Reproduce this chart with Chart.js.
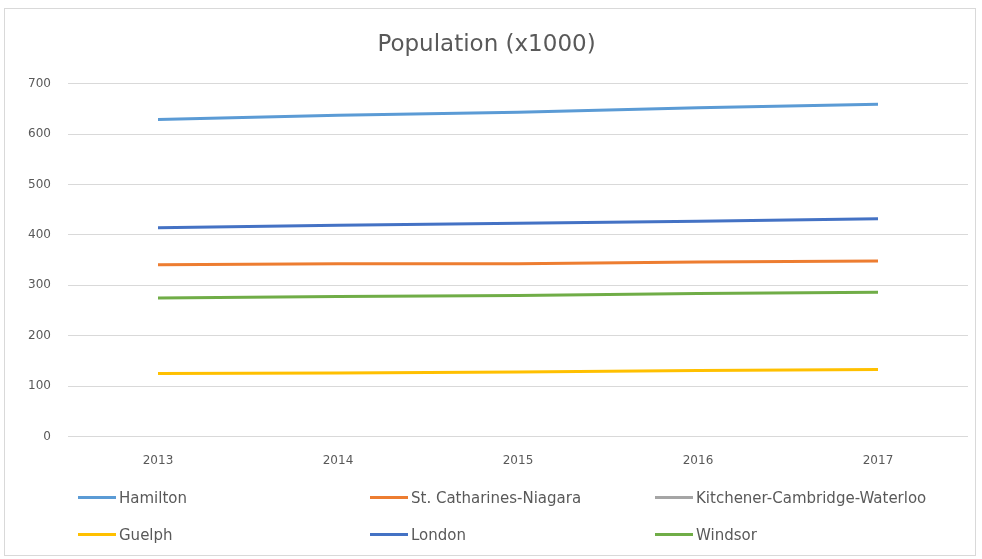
<!DOCTYPE html>
<html>
<head>
<meta charset="utf-8">
<script src="https://cdn.jsdelivr.net/npm/chart.js@4.4.1/dist/chart.umd.min.js"></script>
<style>
    html, body { margin: 0; padding: 0; background: #fff; }
    #frame {
        position: absolute; left: 4px; top: 8px; width: 972px; height: 548px;
        border: 1px solid #d9d9d9; box-sizing: border-box;
    }
    #chart-box { position: absolute; left: 0; top: 0; width: 982px; height: 495px; }
    #legend { position: absolute; left: 0; top: 484px; width: 982px; height: 70px; }
    .legend-item {
        position: absolute; height: 20px; line-height: 20px;
        font-family: "DejaVu Sans", sans-serif; font-size: 15px; color: #595959;
        white-space: nowrap;
    }
    .legend-item span.mark {
        display: inline-block; width: 38px; height: 3px; vertical-align: middle;
        margin-right: 3px; position: relative; top: -1px;
    }
</style>
</head>
<body>
<div id="frame"></div>
<div id="chart-box"><canvas id="line-chart"></canvas></div>
<div id="legend"></div>
<script>
// dados
var years = ['2013', '2014', '2015', '2016', '2017'];
var cities = ['Hamilton', 'St. Catharines-Niagara', 'Kitchener-Cambridge-Waterloo', 'Guelph', 'London', 'Windsor'];
var hamilton = [629, 637, 643, 652, 659];
var stCatharines = [341, 343, 343, 346, 348];
var kitchener = [null, null, null, null, null];
var guelph = [125, 126, 128, 131, 133];
var london = [414, 419, 423, 427, 432];
var windsor = [275, 278, 280, 284, 286];
var yTicks = [0, 100, 200, 300, 400, 500, 600, 700];

var colors = ['#5b9bd5', '#ed7d31', '#a5a5a5', '#ffc000', '#4472c4', '#70ad47'];
var lineChart = null;

/**
 * Monta os datasets a partir das séries
 */
function lineChartData() {
    let series = [hamilton, stCatharines, kitchener, guelph, london, windsor];
    return {
        labels: years,
        datasets: series.map(function(values, i) {
            return {
                label: cities[i],
                data: values,
                borderColor: colors[i],
                backgroundColor: colors[i],
                borderWidth: 3,
                pointRadius: 0,
                tension: 0,
                fill: false
            };
        })
    };
}

/**
 * Legenda em três colunas, como no original
 */
function buildLegend(chart) {
    let cols = [78, 370, 655];
    let rows = [498, 535];
    let html = '';
    chart.data.datasets.forEach(function(ds, i) {
        let left = cols[i % 3];
        let top = rows[Math.floor(i / 3)] - 484 - 10;
        html +=
            '<div class="legend-item" style="left:' + left + 'px; top:' + top + 'px">' +
                '<span class="mark" style="background:' + ds.borderColor + '"></span>' + ds.label +
            '</div>';
    });
    document.getElementById('legend').innerHTML = html;
}

function initLineChart() {
    lineChart = new Chart(document.getElementById('line-chart'), {
        type: 'line',
        data: lineChartData(),
        options: {
            responsive: true,
            maintainAspectRatio: false,
            animation: false,
            layout: { padding: { left: 5, right: 14, top: 0, bottom: 10 } },
            plugins: {
                legend: { display: false },
                tooltip: { enabled: false },
                title: {
                    display: true,
                    text: 'Population (x1000)',
                    color: '#595959',
                    font: { family: '"DejaVu Sans", sans-serif', size: 23, weight: 'normal' },
                    padding: { top: 31, bottom: 25 }
                }
            },
            scales: {
                x: {
                    offset: true,
                    grid: { display: false, drawTicks: false },
                    border: { display: false },
                    ticks: {
                        color: '#595959',
                        padding: 17,
                        font: { family: '"DejaVu Sans", sans-serif', size: 12 }
                    }
                },
                y: {
                    min: 0,
                    max: 700,
                    afterBuildTicks: function(scale) {
                        scale.ticks = yTicks.map(function(v) { return { value: v }; });
                    },
                    afterFit: function(scale) { scale.width = 63; },
                    grid: { color: '#d9d9d9', drawTicks: false },
                    border: { display: false },
                    ticks: {
                        color: '#595959',
                        padding: 17,
                        font: { family: '"DejaVu Sans", sans-serif', size: 12 }
                    }
                }
            }
        }
    });
    buildLegend(lineChart);
}

initLineChart();
</script>
</body>
</html>
